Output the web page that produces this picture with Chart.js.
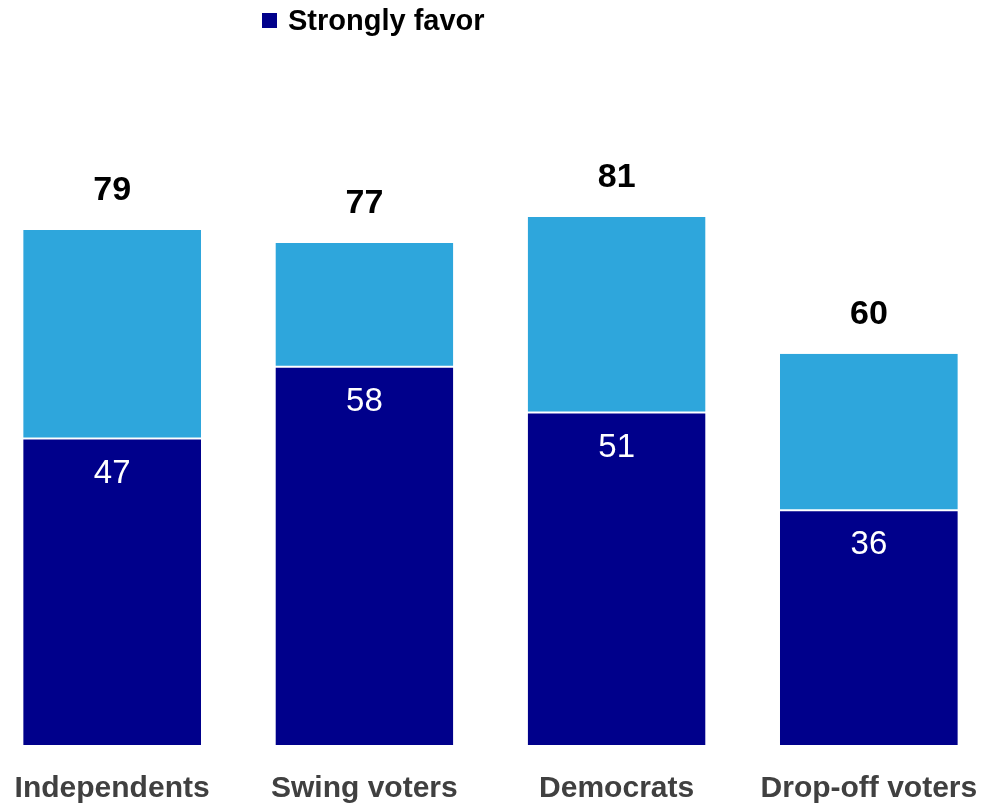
<!DOCTYPE html>
<html>
<head>
<meta charset="utf-8">
<script src="https://cdn.jsdelivr.net/npm/chart.js@4"></script>
<style>
  html, body { margin: 0; padding: 0; background: #fff; overflow: hidden; }
  #wrap { position: relative; width: 989px; height: 803px; overflow: hidden; }
  #box { position: absolute; left: -14px; top: 0; width: 1009px; height: 833px; }
  #legend { position: absolute; left: 262px; top: 4px; font: bold 29px "Liberation Sans", Arial, sans-serif; color: #000; display: flex; align-items: center; }
  #legend span.sw { display: inline-block; width: 15px; height: 15px; background: #00008B; margin-right: 11px; }
</style>
</head>
<body>
<div id="wrap">
  <div id="box"><canvas id="grafica"></canvas></div>
  <div id="legend"><span class="sw"></span>Strongly favor</div>
</div>
<script>
// datos
const grupos = ['Independents', 'Swing voters', 'Democrats', 'Drop-off voters'];
const fuertemente = [47, 58, 51, 36];
const algo = [32, 19, 30, 24];
const totales = [79, 77, 81, 60];

const oscuro = '#00008B';
const claro = '#2EA6DC';

// etiquetas de valores dentro y encima de las barras
const etiquetas = {
    id: 'etiquetas',
    afterDatasetsDraw(chart) {
        const ctx = chart.ctx;
        const abajo = chart.getDatasetMeta(0);
        const arriba = chart.getDatasetMeta(1);
        ctx.save();
        ctx.textAlign = 'center';
        ctx.textBaseline = 'middle';
        abajo.data.forEach(function (bar, i) {
            ctx.fillStyle = '#fff';
            ctx.font = '33px "Liberation Sans", Arial, sans-serif';
            ctx.fillText(fuertemente[i], bar.x, bar.y + 35);
        });
        arriba.data.forEach(function (bar, i) {
            ctx.fillStyle = '#000';
            ctx.font = 'bold 34px "Liberation Sans", Arial, sans-serif';
            ctx.fillText(totales[i], bar.x, bar.y - 39);
        });
        ctx.restore();
    }
};

new Chart(document.getElementById('grafica'), {
    type: 'bar',
    data: {
        labels: grupos,
        datasets: [{
            label: 'Strongly favor',
            data: fuertemente,
            backgroundColor: oscuro,
            borderColor: '#fff',
            borderWidth: { top: 1, left: 0, right: 0, bottom: 0 },
            borderSkipped: false
        }, {
            label: 'Somewhat favor',
            data: algo,
            backgroundColor: claro,
            borderColor: '#fff',
            borderWidth: { top: 0, left: 0, right: 0, bottom: 1 },
            borderSkipped: false
        }]
    },
    options: {
        responsive: true,
        maintainAspectRatio: false,
        animation: false,
        layout: { padding: { top: 93, left: 0, right: 0, bottom: 0 } },
        plugins: {
            legend: { display: false },
            tooltip: { enabled: false }
        },
        datasets: {
            bar: { barPercentage: 0.705, categoryPercentage: 1 }
        },
        scales: {
            x: {
                stacked: true,
                grid: { display: false, drawTicks: false },
                border: { display: false },
                afterFit: function (scale) {
                    scale.paddingLeft = 0;
                    scale.paddingRight = 0;
                },
                ticks: {
                    padding: 29,
                    color: '#404040',
                    font: { family: '"Liberation Sans", Arial, sans-serif', size: 30, weight: 'bold', lineHeight: 1 }
                }
            },
            y: {
                stacked: true,
                display: false,
                min: 0,
                max: 100
            }
        }
    },
    plugins: [etiquetas]
});
</script>
</body>
</html>
